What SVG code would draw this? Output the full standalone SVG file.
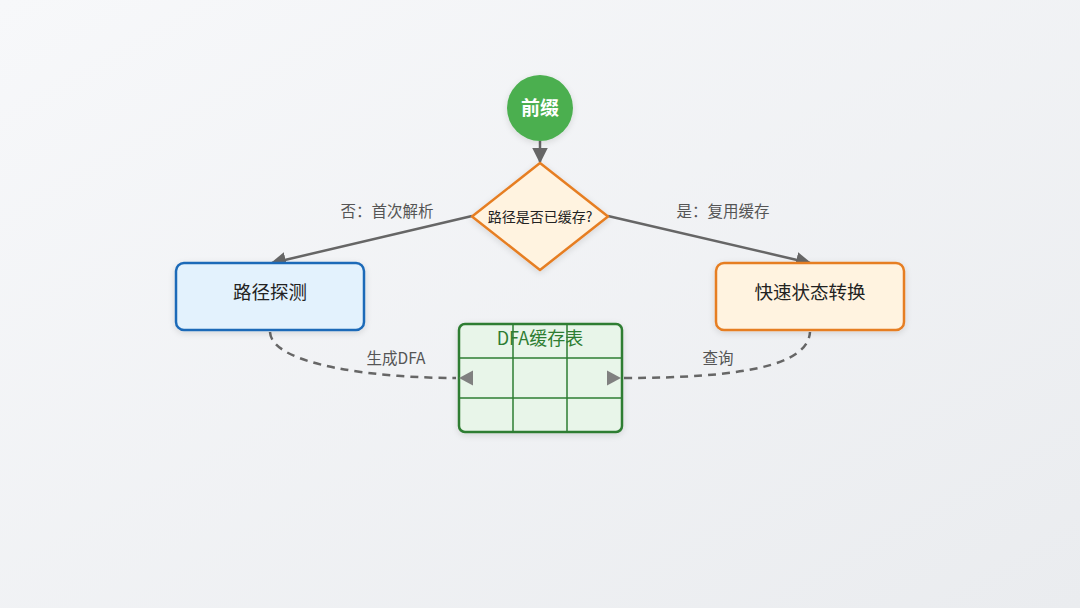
<svg xmlns="http://www.w3.org/2000/svg" width="1080" height="608" viewBox="0 0 1080 608">
<defs>
<linearGradient id="bg" x1="0" y1="0" x2="1" y2="1">
<stop offset="0" stop-color="#f7f8fa"/>
<stop offset="1" stop-color="#eaecef"/>
</linearGradient>
<filter id="sh" x="-20%" y="-20%" width="140%" height="150%">
<feDropShadow dx="0" dy="2" stdDeviation="3" flood-color="#000" flood-opacity="0.12"/>
</filter>
<marker id="ah" viewBox="0 0 10 10" refX="9" refY="5" markerWidth="6.2" markerHeight="6.2" orient="auto" markerUnits="strokeWidth">
<path d="M0,0 L10,5 L0,10 z" fill="#666"/>
</marker>
</defs>
<style>
.t{font-family:"Noto Sans CJK SC","Noto Sans",sans-serif;}
.lbl{font-size:15.5px;fill:#555;text-anchor:middle;}
.conn{stroke:#666;stroke-width:2.5;fill:none;}
.dash{stroke:#666;stroke-width:2.5;fill:none;stroke-dasharray:8,6;}
</style>
<rect width="1080" height="608" fill="url(#bg)"/>

<g id="connectors">
<line class="conn" x1="540" y1="141" x2="540" y2="162" marker-end="url(#ah)"/>
<line class="conn" x1="472" y1="216" x2="272" y2="263" marker-end="url(#ah)"/>
<line class="conn" x1="608" y1="216" x2="810" y2="263" marker-end="url(#ah)"/>
<path class="dash" d="M270,332 C272,366 380,378 456,378"/>
<path class="dash" d="M624,378 C740,378 808,366 810,332"/>
<text class="t lbl" x="387" y="216.5">否：首次解析</text>
<text class="t lbl" x="723" y="216.5">是：复用缓存</text>
<text class="t lbl" x="396" y="363.5">生成DFA</text>
<text class="t lbl" x="718" y="363.5">查询</text>
</g>

<g id="prefix">
<circle cx="540" cy="108" r="33" fill="#4caf50" filter="url(#sh)"/>
<text class="t" x="540" y="115" font-size="19" font-weight="bold" fill="#fff" text-anchor="middle">前缀</text>
</g>

<g id="decision">
<polygon points="540,163 608,216.5 540,270 472,216.5" fill="#fff3e0" stroke="#e67e22" stroke-width="2.5" stroke-linejoin="round" filter="url(#sh)"/>
<text class="t" x="540" y="222" font-size="14" fill="#222" text-anchor="middle">路径是否已缓存?</text>
</g>

<g id="probe">
<rect x="176" y="263" width="188" height="67" rx="8" fill="#e3f2fd" stroke="#1e6bb8" stroke-width="2.5" filter="url(#sh)"/>
<text class="t" x="270" y="298.5" font-size="18.5" fill="#222" text-anchor="middle">路径探测</text>
</g>

<g id="fast">
<rect x="716" y="263" width="188" height="67" rx="8" fill="#fff3e0" stroke="#e67e22" stroke-width="2.5" filter="url(#sh)"/>
<text class="t" x="810" y="298.5" font-size="18.5" fill="#222" text-anchor="middle">快速状态转换</text>
</g>

<g id="dfa-table">
<rect x="459" y="324" width="163" height="108" rx="6" fill="#e8f5e9" stroke="#2e7d32" stroke-width="2.5" filter="url(#sh)"/>
<g stroke="#2e7d32" stroke-width="1.5">
<line x1="513" y1="324" x2="513" y2="432"/>
<line x1="567" y1="324" x2="567" y2="432"/>
<line x1="459" y1="358" x2="622" y2="358"/>
<line x1="459" y1="398" x2="622" y2="398"/>
</g>
<text class="t" x="540" y="345" font-size="18" fill="#2e7d32" text-anchor="middle">DFA缓存表</text>
<polygon points="459,378 473,370.5 473,385.5" fill="#808080"/>
<polygon points="621,378 607,370.5 607,385.5" fill="#808080"/>
</g>
</svg>
